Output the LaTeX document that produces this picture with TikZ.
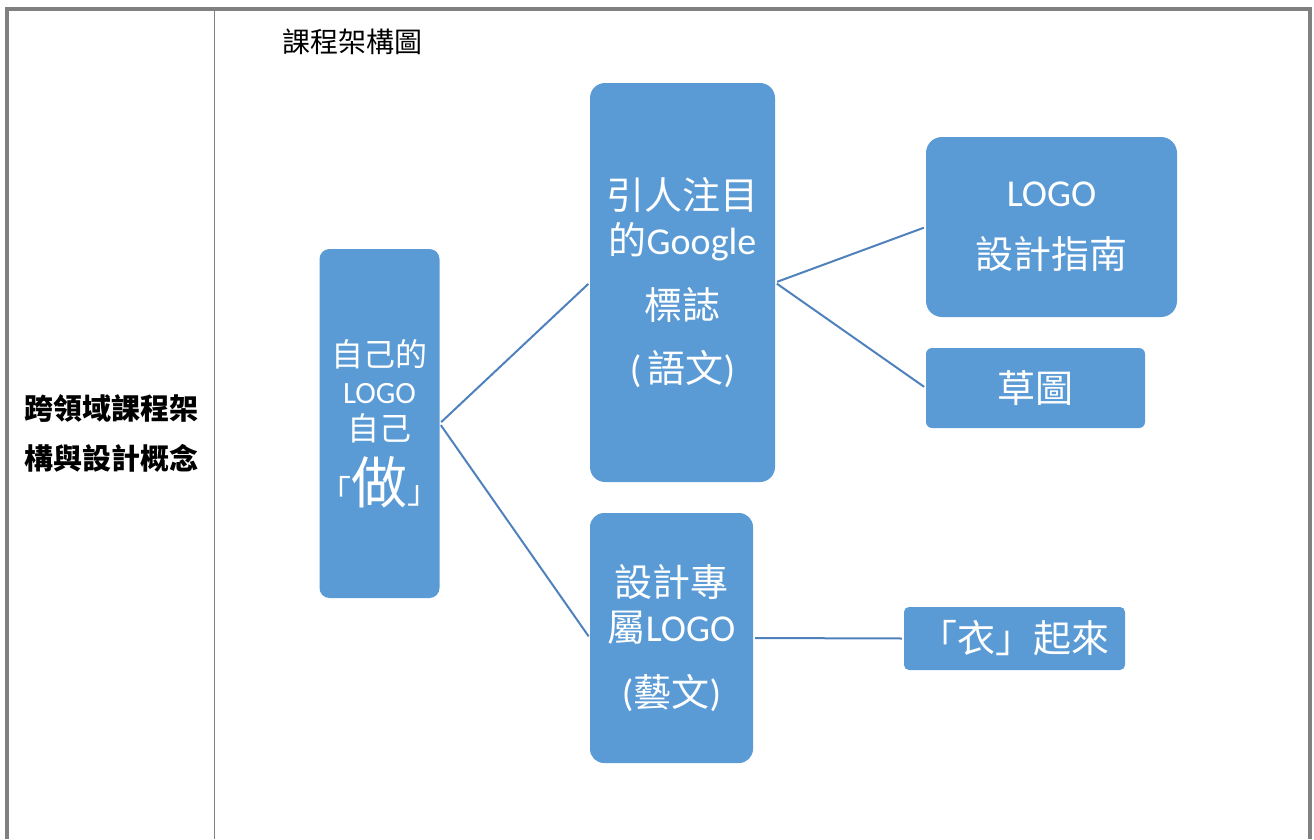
\documentclass[tikz,border=0pt]{standalone}
\usepackage{fontspec}
\setmainfont{Carlito}
\newfontfamily\cjk{Noto Sans CJK TC}
\newfontfamily\lat{Carlito}

\definecolor{boxblue}{HTML}{5B9BD5}
\definecolor{linkblue}{HTML}{4F81BD}
\definecolor{framegray}{HTML}{808080}

\tikzset{
  blk/.style={fill=boxblue, draw=none, text=white, align=center, inner sep=0pt},
  link/.style={draw=linkblue, line width=2pt, shorten <=2pt, shorten >=2pt},
}

\begin{document}
\begin{tikzpicture}[x=1pt, y=-1pt]
    \useasboundingbox (0,0) rectangle (1314,839);

    % 表格框線
    \draw[framegray, line width=4pt] (7,839) -- (7,9) -- (1310,9) -- (1310,839);
    \draw[framegray, line width=1pt] (214.5,11) -- (214.5,839);

    % 左欄與標題
    \node[align=center, font={\cjk\bfseries\fontsize{29}{50}\selectfont}] (concept) at (111,433) {跨領域課程架\\構與設計概念};
    \node[font={\cjk\fontsize{28}{30}\selectfont}] (title) at (352,42) {課程架構圖};

    % 方塊
    \node[blk, rounded corners=10pt, minimum width=119pt, minimum height=349pt,
          font={\cjk\fontsize{32}{37}\selectfont}] (self) at (379.5,423.5)
          {自己的\\{\lat\fontsize{31}{37}\selectfont LOGO}\\自己\\[12pt]「{\fontsize{56}{60}\selectfont 做}」};
    \node[blk, rounded corners=15pt, minimum width=185pt, minimum height=399pt,
          font={\cjk\fontsize{38}{45}\selectfont}] (google) at (682.5,282.5)
          {引人注目\\的{\lat Google}\\[20pt]標誌\\[18pt]{\lat (\,}語文{\lat )}};
    \node[blk, rounded corners=14pt, minimum width=163pt, minimum height=250pt,
          font={\cjk\fontsize{38}{45}\selectfont}] (design) at (671.5,638)
          {設計專\\屬{\lat LOGO}\\[20pt]{\lat (}藝文{\lat )}};
    \node[blk, rounded corners=16pt, minimum width=251pt, minimum height=180pt,
          font={\cjk\fontsize{38}{45}\selectfont}] (guide) at (1051.5,227)
          {{\lat LOGO}\\[17pt]設計指南};
    \node[blk, rounded corners=6pt, minimum width=219pt, minimum height=80pt,
          font={\cjk\fontsize{38}{45}\selectfont}] (sketch) at (1035.5,388) {草圖};
    \node[blk, rounded corners=5pt, minimum width=221pt, minimum height=63pt,
          font={\cjk\fontsize{38}{45}\selectfont}] (wear) at (1014.5,638.5) {「衣」起來};

    % 連線
    \draw[link] (self.east) -- (google.west);
    \draw[link] (self.east) -- (design.west);
    \draw[link] (google.east) -- (guide.west);
    \draw[link] (google.east) -- (sketch.west);
    \draw[link] (design.east) -- (wear.west);
\end{tikzpicture}
\end{document}
